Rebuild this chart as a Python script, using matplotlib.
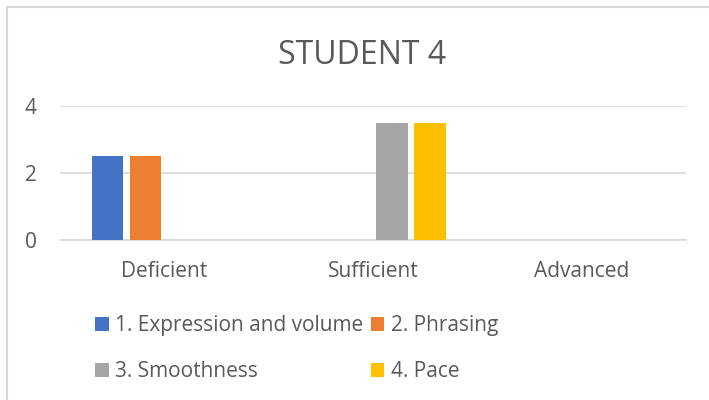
import matplotlib
matplotlib.use("Agg")
import matplotlib.pyplot as plt
from matplotlib.lines import Line2D
import numpy as np

categories = ["Deficient", "Sufficient", "Advanced"]
series_names = ["1. Expression and volume", "2. Phrasing", "3. Smoothness", "4. Pace"]
expression = [2.5, 0, 0]
phrasing = [2.5, 0, 0]
smoothness = [0, 3.5, 0]
pace = [0, 3.5, 0]
colors = ["#4472C4", "#ED7D31", "#A5A5A5", "#FFC000"]
yticks = [0, 2, 4]

plt.rcParams["font.family"] = ["Open Sans", "DejaVu Sans"]
txt = "#595959"

fig = plt.figure(figsize=(7.09, 4.0), dpi=100)
ax = fig.add_axes([60 / 709, 0.4, 626 / 709, 134 / 400])

x = np.arange(len(categories))
slot = 0.182
width = 0.149
bars = []
for i, (vals, name) in enumerate(zip([expression, phrasing, smoothness, pace], series_names)):
    bars.append(ax.bar(x + (i - 1.5) * slot, vals, width, color=colors[i], label=name, zorder=3))

ax.set_xlim(-0.5, 2.5)
ax.set_ylim(0, 4)
ax.set_yticks(yticks)
ax.set_xticks(x)
ax.set_xticklabels(categories)
ax.yaxis.grid(True, color="#D9D9D9", linewidth=1.2, zorder=0)
ax.tick_params(axis="both", length=0, labelsize=15, labelcolor=txt)
ax.tick_params(axis="x", pad=15)
ax.tick_params(axis="y", pad=17)
for s in ["top", "right", "left"]:
    ax.spines[s].set_visible(False)
ax.spines["bottom"].set_color("#D9D9D9")
ax.spines["bottom"].set_linewidth(1.2)

fig.text(362 / 709, 1 - 56 / 400, "STUDENT 4", ha="center", va="center",
         fontsize=23, color=txt)

# matplotlib fills legend columns first, so reorder to get rows 1-2 / 3-4
order = [0, 2, 1, 3]
fig.legend([bars[i] for i in order], [series_names[i] for i in order],
           loc="upper left", bbox_to_anchor=(85 / 709, 1 - 305 / 400), ncol=2,
           frameon=False, fontsize=15, labelcolor=txt, handlelength=0.65,
           handleheight=0.65, handletextpad=0.3, columnspacing=0.35,
           labelspacing=1.2, borderpad=0)

# partial chart frame (left and top)
fig.add_artist(Line2D([7 / 709, 7 / 709], [0, 1 - 7 / 400], color="#D9D9D9", lw=1.5))
fig.add_artist(Line2D([7 / 709, 1], [1 - 7 / 400, 1 - 7 / 400], color="#D9D9D9", lw=1.5))

fig.savefig("out.png", dpi=100, facecolor="white")
